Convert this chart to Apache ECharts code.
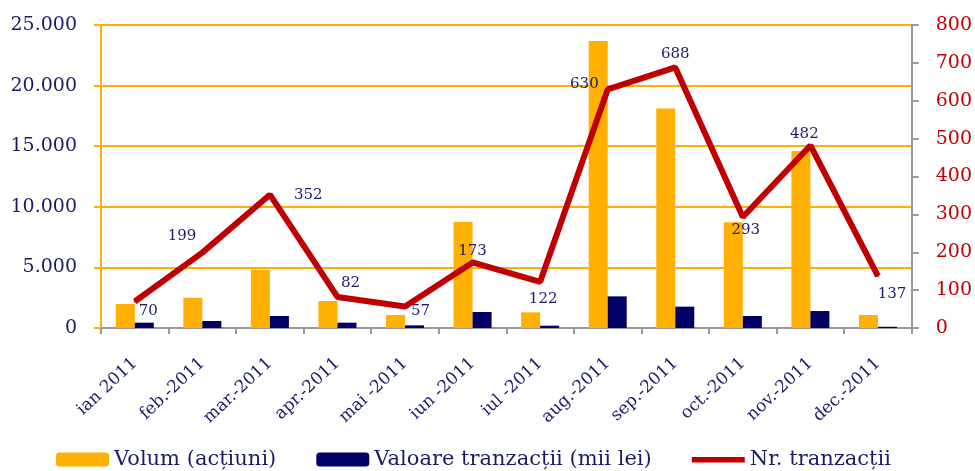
<!DOCTYPE html>
<html>
<head>
<meta charset="utf-8">
<script src="https://cdn.jsdelivr.net/npm/echarts@6/dist/echarts.min.js"></script>
<style>
  html, body { margin: 0; padding: 0; background: #fff; }
  #chart { width: 975px; height: 471px; }
</style>
</head>
<body>
<div id="chart"></div>
<script>
'use strict';
// date
let months = ['ian 2011', 'feb.-2011', 'mar.-2011', 'apr.-2011', 'mai -2011', 'iun -2011',
    'iul -2011', 'aug.-2011', 'sep.-2011', 'oct.-2011', 'nov.-2011', 'dec.-2011'];
let volum = [1980, 2500, 4810, 2230, 1070, 8770, 1290, 23680, 18120, 8720, 14600, 1070];
let valoare = [440, 580, 990, 440, 220, 1320, 190, 2610, 1760, 990, 1400, 100];
let nrTranzactii = [70, 199, 352, 82, 57, 173, 122, 630, 688, 293, 482, 137];

// unde sta eticheta fiecarui punct
let labelPos = ['right', 'left', 'right', 'top', 'right', 'top', 'bottom', 'left', 'top', 'bottom', 'top', 'bottom'];
let labelOff = [[-2, 10], [0, -17], [18, 0], [13, 0], [0, 5], [0, 2], [3, 4], [-3, -5], [0, 0], [3, 0], [-6, 2], [14, 4]];

let serif = '"DejaVu Serif", "Liberation Serif", serif';
let navy = '#1b1b6b';
let red = '#c00000';

let dom = document.getElementById('chart');
let myChart = echarts.init(dom);

let lineData = nrTranzactii.map(function (v, i) {
    return {
        value: v,
        label: { position: labelPos[i], offset: labelOff[i] }
    };
});

let option = {
    animation: false,
    textStyle: { fontFamily: serif },
    grid: { left: 101, right: 62, top: 25, bottom: 143 },
    legend: {
        bottom: 1,
        left: 56,
        padding: 0,
        itemWidth: 53,
        itemHeight: 14,
        itemGap: 40,
        textStyle: { color: navy, fontSize: 21, fontFamily: serif },
        data: [
            'Volum (acțiuni)',
            'Valoare tranzacții (mii lei)',
            { name: 'Nr. tranzacții', icon: 'path://M0,0 M0,4.5 L55,4.5 L55,10 L0,10 Z M55,14' }
        ]
    },
    xAxis: {
        type: 'category',
        data: months,
        boundaryGap: true,
        axisLine: { lineStyle: { color: '#999', width: 2 } },
        axisTick: { show: true, length: 6, lineStyle: { color: '#999', width: 2 } },
        axisLabel: {
            rotate: 43,
            interval: 0,
            margin: 33,
            color: navy,
            fontSize: 17,
            fontFamily: serif
        }
    },
    yAxis: [{
        type: 'value',
        min: 0,
        max: 25000,
        interval: 5000,
        axisLine: { show: true, lineStyle: { color: '#ffb000', width: 2 } },
        axisTick: { show: true, length: 7, lineStyle: { color: '#ffb000', width: 2 } },
        splitLine: { lineStyle: { color: '#ffb000', width: 2 } },
        axisLabel: {
            color: navy,
            fontSize: 19,
            margin: 24,
            fontFamily: serif,
            formatter: function (v) {
                return v.toString().replace(/\B(?=(\d{3})+(?!\d))/g, '.');
            }
        }
    }, {
        type: 'value',
        min: 0,
        max: 800,
        interval: 100,
        axisLine: { show: true, lineStyle: { color: '#999', width: 2 } },
        axisTick: { show: true, length: 7, lineStyle: { color: '#999', width: 2 } },
        splitLine: { show: false },
        axisLabel: { color: red, fontSize: 19, margin: 24, fontFamily: serif }
    }],
    series: [{
        name: 'Volum (acțiuni)',
        type: 'bar',
        barWidth: 19,
        barGap: '0%',
        itemStyle: { color: '#ffb000' },
        data: volum
    }, {
        name: 'Valoare tranzacții (mii lei)',
        type: 'bar',
        barWidth: 19,
        barGap: '0%',
        itemStyle: { color: '#000066' },
        data: valoare
    }, {
        name: 'Nr. tranzacții',
        type: 'line',
        yAxisIndex: 1,
        symbol: 'circle',
        symbolSize: 2,
        showSymbol: true,
        lineStyle: { color: red, width: 6 },
        itemStyle: { color: red },
        label: {
            show: true,
            color: navy,
            fontSize: 15,
            fontFamily: serif
        },
        data: lineData
    }]
};

myChart.setOption(option);
</script>
</body>
</html>
